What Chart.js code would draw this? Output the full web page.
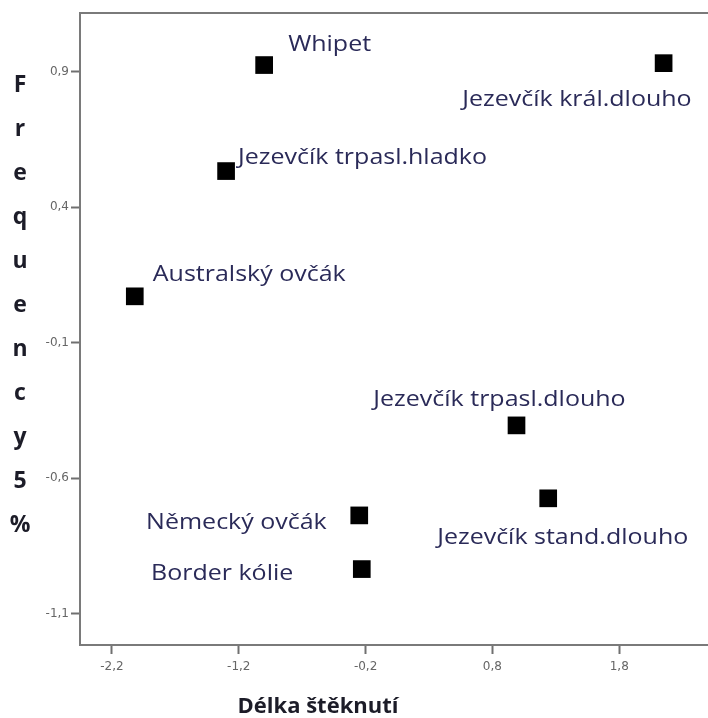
<!DOCTYPE html>
<html><head><meta charset="utf-8">
<script src="https://cdn.jsdelivr.net/npm/chart.js@4.4.1/dist/chart.umd.min.js"></script>
<style>html,body{margin:0;padding:0;background:#fff}#wrap{width:708px;height:718px}</style>
</head><body><div id="wrap"><canvas id="c" width="708" height="718"></canvas></div>
<script>
// ---- data ----
const breeds = ["Whipet","Jezevčík král.dlouho","Jezevčík trpasl.hladko","Australský ovčák","Jezevčík trpasl.dlouho","Jezevčík stand.dlouho","Německý ovčák","Border kólie"];
const barkLength = [-1.00, 2.15, -1.30, -2.02, 0.99, 1.24, -0.25, -0.23];
const frequency5 = [0.924, 0.931, 0.533, 0.071, -0.405, -0.674, -0.737, -0.935];
const xTickValues = [-2.2, -1.2, -0.2, 0.8, 1.8];
const yTickValues = [0.9, 0.4, -0.1, -0.6, -1.1];
const xAxisTitle = "Délka štěknutí";
const yAxisTitle = "Frequency5%";

// ---- label placement (style, not data) ----
const labelLayout = [
  {align:"left",  dx: 24,   dy:-20},
  {align:"right", dx: 28,   dy: 37},
  {align:"left",  dx: 12,   dy:-13},
  {align:"left",  dx: 18,   dy:-21},
  {align:"center",dx:-17,   dy:-25},
  {align:"center",dx: 14.5, dy: 40},
  {align:"right", dx:-32.5, dy:  8},
  {align:"right", dx:-68.5, dy:  5}
];

const fmt = v => String(Math.round(v*10)/10).replace(".", ",");

const pointLabels = {
  id: "pointLabels",
  afterDatasetsDraw(chart) {
    const ctx = chart.ctx;
    const meta = chart.getDatasetMeta(0);
    ctx.save();
    ctx.font = "21px 'Open Sans'";
    ctx.fillStyle = "#2a2a58";
    ctx.textBaseline = "middle";
    const sx = 1.19;
    meta.data.forEach((pt, i) => {
      const L = labelLayout[i];
      ctx.save();
      ctx.translate(pt.x + L.dx, pt.y + L.dy);
      ctx.scale(sx, 1);
      ctx.textAlign = L.align;
      ctx.fillText(breeds[i], 0, 0);
      ctx.restore();
    });
    ctx.restore();
  }
};

const frameAndTitles = {
  id: "frameAndTitles",
  afterDraw(chart) {
    const ctx = chart.ctx, a = chart.chartArea;
    ctx.save();
    ctx.strokeStyle = "#7a7a7a"; ctx.lineWidth = 2;
    ctx.beginPath(); ctx.moveTo(a.left - 1, a.top); ctx.lineTo(a.right, a.top); ctx.stroke();
    ctx.fillStyle = "#1c1c28";
    ctx.font = "bold 23px 'Open Sans'";
    ctx.textAlign = "center"; ctx.textBaseline = "alphabetic";
    [...yAxisTitle].forEach((ch, i) => ctx.fillText(ch, 20, 92 + i*44));
    ctx.font = "bold 22px 'Open Sans'";
    ctx.fillText(xAxisTitle, 318, 713);
    ctx.restore();
  }
};

const noPad = s => { s.paddingLeft = 0; s.paddingRight = 0; s.paddingTop = 0; s.paddingBottom = 0; };
const tickFont = {family: "'DejaVu Sans'", size: 12};
new Chart(document.getElementById("c"), {
  type: "scatter",
  data: { datasets: [{
    data: barkLength.map((x, i) => ({x, y: frequency5[i]})),
    pointStyle: "rect", pointRadius: 12.5, pointHoverRadius: 12.5,
    backgroundColor: "#000", borderColor: "#000", borderWidth: 0
  }]},
  options: {
    responsive: false, animation: false, events: [],
    layout: {autoPadding: false, padding: {top: 13, left: 0, right: 0, bottom: 0}},
    plugins: {legend: {display: false}, tooltip: {enabled: false}},
    scales: {
      x: {
        type: "linear", min: -2.452, max: 2.5,
        afterBuildTicks: s => { s.ticks = xTickValues.map(v => ({value: v})); },
        afterFit: s => { s.height = 73; noPad(s); },
        ticks: {callback: v => fmt(v), font: tickFont, color: "#666", padding: 6, maxRotation: 0},
        grid: {drawOnChartArea: false, drawTicks: true, tickLength: 9, tickColor: "#707070", tickWidth: 2},
        border: {display: true, color: "#7a7a7a", width: 2}
      },
      y: {
        type: "linear", min: -1.215, max: 1.116,
        afterBuildTicks: s => { s.ticks = yTickValues.map(v => ({value: v})); },
        afterFit: s => { s.width = 80; noPad(s); },
        ticks: {callback: v => fmt(v), font: tickFont, color: "#666", padding: 2},
        grid: {drawOnChartArea: false, drawTicks: true, tickLength: 9, tickColor: "#707070", tickWidth: 2},
        border: {display: true, color: "#7a7a7a", width: 2}
      }
    }
  },
  plugins: [pointLabels, frameAndTitles]
});
</script></body></html>
